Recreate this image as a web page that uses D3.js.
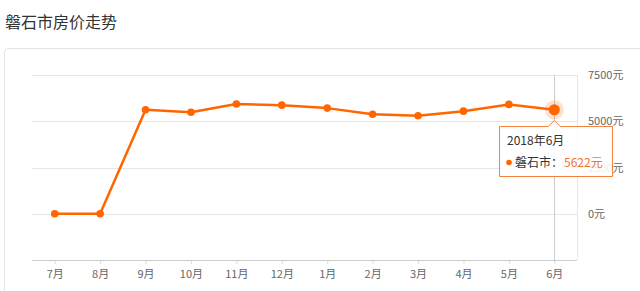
<!DOCTYPE html>
<html>
<head>
<meta charset="utf-8">
<script src="https://cdn.jsdelivr.net/npm/d3@7"></script>
<style>
  body { margin: 0; background: #fff; font-family: "Noto Sans CJK SC", "Noto Sans", sans-serif; }
  svg text { font-family: "Noto Sans CJK SC", "Noto Sans", sans-serif; }
</style>
</head>
<body>
<div id="chart"></div>
<script>
const title = "磐石市房价走势";
const months = ["7月", "8月", "9月", "10月", "11月", "12月", "1月", "2月", "3月", "4月", "5月", "6月"];
const prices = [0, 0, 5620, 5490, 5930, 5870, 5710, 5380, 5295, 5545, 5910, 5622];
const yTicks = [0, 2500, 5000, 7500];
const cityName = "磐石市";
const tipTitle = "2018年6月";

const W = 640, H = 291;
const margin = {top: 75, right: 63, bottom: 31, left: 32};
const width = W - margin.left - margin.right;
const height = H - margin.top - margin.bottom;
const orange = "#ff6600";

const svg = d3.select("#chart").append("svg")
  .attr("width", W)
  .attr("height", H);

svg.append("text")
  .attr("x", 5).attr("y", 28)
  .attr("font-size", 16)
  .attr("fill", "#333")
  .text(title);

// panel box
svg.append("rect")
  .attr("x", 4.5).attr("y", 48.5)
  .attr("width", 660).attr("height", 280)
  .attr("rx", 4)
  .attr("fill", "none")
  .attr("stroke", "#e3e3e3");

const x = d3.scalePoint()
  .domain(months)
  .range([0, width])
  .padding(0.5);
const y = d3.scaleLinear()
  .domain([-2500, 7500])
  .range([height, 0]);

const g = svg.append("g")
  .attr("transform", `translate(${margin.left},${margin.top})`);

// grid
g.selectAll(".grid")
  .data(yTicks)
  .enter().append("line")
  .attr("x1", 0).attr("x2", width)
  .attr("y1", d => Math.round(y(d)) + 0.5)
  .attr("y2", d => Math.round(y(d)) + 0.5)
  .attr("stroke", "#e6e6e6");

// right border of grid
g.append("line")
  .attr("x1", width + 0.5).attr("x2", width + 0.5)
  .attr("y1", y(7500)).attr("y2", height)
  .attr("stroke", "#e6e6e6");

// y labels
g.selectAll(".ylab")
  .data(yTicks)
  .enter().append("text")
  .attr("x", width + 11)
  .attr("y", d => y(d) + 4)
  .attr("font-size", 11)
  .attr("fill", "#666")
  .text(d => d + "元");

// x axis
const xAxis = g.append("g")
  .attr("transform", `translate(0,${height})`)
  .call(d3.axisBottom(x).tickSize(4).tickSizeOuter(0).tickPadding(6));
xAxis.select(".domain").remove();
xAxis.append("line")
  .attr("x1", 0).attr("x2", width)
  .attr("y1", 0.5).attr("y2", 0.5)
  .attr("stroke", "#ccc");
xAxis.selectAll(".tick line").attr("stroke", "#ddd");
xAxis.selectAll(".tick text")
  .attr("font-size", 11)
  .attr("fill", "#666");

// crosshair
const last = months[months.length - 1];
g.append("line")
  .attr("x1", Math.round(x(last)) + 0.5).attr("x2", Math.round(x(last)) + 0.5)
  .attr("y1", 0).attr("y2", height)
  .attr("stroke", "#ccc");

const data = months.map((m, i) => ({m, v: prices[i]}));

g.append("path")
  .datum(data)
  .attr("fill", "none")
  .attr("stroke", orange)
  .attr("stroke-width", 2.5)
  .attr("stroke-linejoin", "round")
  .attr("d", d3.line().x(d => x(d.m)).y(d => y(d.v)));

g.selectAll(".dot")
  .data(data.slice(0, -1))
  .enter().append("circle")
  .attr("cx", d => x(d.m))
  .attr("cy", d => y(d.v))
  .attr("r", 3.8)
  .attr("fill", orange);

const lastD = data[data.length - 1];
g.append("circle")
  .attr("cx", x(lastD.m)).attr("cy", y(lastD.v))
  .attr("r", 9.5)
  .attr("fill", orange)
  .attr("fill-opacity", 0.2);
g.append("circle")
  .attr("cx", x(lastD.m)).attr("cy", y(lastD.v))
  .attr("r", 5.5)
  .attr("fill", orange);

// tooltip
const px = margin.left + x(lastD.m);
const bx = 499.5, by = 126.5, bw = 113, bh = 50;
const tip = svg.append("g");
tip.append("path")
  .attr("d", `M${bx},${by} H${px - 6} L${px},${by - 6} L${px + 6},${by} H${bx + bw} V${by + bh} H${bx} Z`)
  .attr("fill", "rgba(255,255,255,0.88)")
  .attr("stroke", "#f4823c")
  .attr("stroke-width", 1);
tip.append("text")
  .attr("x", 507).attr("y", 145)
  .attr("font-size", 12)
  .attr("fill", "#333")
  .text(tipTitle);
tip.append("circle")
  .attr("cx", 509).attr("cy", 162.5)
  .attr("r", 2.8)
  .attr("fill", orange);
tip.append("text")
  .attr("x", 515).attr("y", 167)
  .attr("font-size", 12)
  .attr("fill", "#333")
  .text(cityName + "：");
tip.append("text")
  .attr("x", 564).attr("y", 167)
  .attr("font-size", 12)
  .attr("fill", "#f4722b")
  .text(lastD.v + "元");
</script>
</body>
</html>
